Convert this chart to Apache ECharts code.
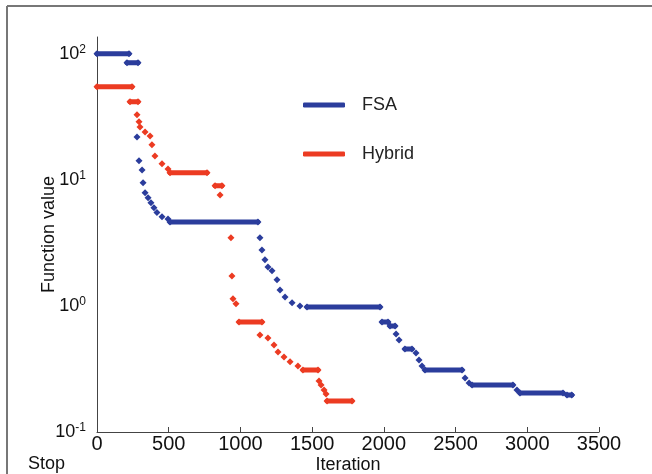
<!DOCTYPE html>
<html>
<head>
<meta charset="utf-8">
<script src="https://cdn.jsdelivr.net/npm/echarts@6/dist/echarts.min.js"></script>
<style>
html,body{margin:0;padding:0;background:#fff;}
#chart{width:652px;height:474px;}
</style>
</head>
<body>
<div id="chart"></div>
<script>
// Segments: [iterationStart, iterationEnd, functionValue]
var seriesNames = ['FSA', 'Hybrid'];
var fsaSegments = [
  [0, 223, 100], [209, 286, 85], [279, 279, 21.9], [293, 293, 14.2],
  [314, 314, 12.0], [321, 321, 9.5], [335, 335, 7.9], [356, 356, 7.2],
  [376, 376, 6.6], [397, 397, 6.0], [418, 418, 5.5], [453, 453, 5.1],
  [495, 495, 4.9], [509, 1122, 4.64], [1136, 1136, 3.47], [1150, 1150, 2.78],
  [1171, 1171, 2.32], [1192, 1192, 2.04], [1220, 1220, 1.90], [1255, 1255, 1.61],
  [1276, 1276, 1.34], [1311, 1311, 1.18], [1360, 1360, 1.06], [1415, 1415, 1.0],
  [1464, 1973, 0.98], [1987, 2029, 0.746], [2043, 2078, 0.693], [2085, 2085, 0.60],
  [2106, 2106, 0.537], [2147, 2196, 0.456], [2224, 2224, 0.424], [2245, 2245, 0.372],
  [2266, 2266, 0.334], [2287, 2545, 0.310], [2566, 2566, 0.268], [2594, 2594, 0.245],
  [2615, 2900, 0.236], [2928, 2928, 0.215], [2949, 3249, 0.204], [3277, 3310, 0.197]
];
var hybridSegments = [
  [0, 244, 54.7], [230, 286, 41.6], [279, 279, 32.8], [293, 293, 28.9],
  [300, 300, 26.3], [335, 335, 24.0], [370, 370, 22.3], [383, 383, 19.0],
  [404, 404, 15.5], [453, 453, 13.4], [495, 495, 12.2], [509, 767, 11.4],
  [823, 871, 9.0], [858, 858, 7.6], [934, 934, 3.47], [941, 941, 1.73],
  [948, 948, 1.14], [969, 969, 1.04], [990, 1150, 0.746], [1136, 1136, 0.589],
  [1192, 1192, 0.557], [1234, 1234, 0.49], [1262, 1262, 0.431], [1304, 1304, 0.394],
  [1346, 1346, 0.36], [1401, 1401, 0.334], [1436, 1541, 0.310], [1548, 1548, 0.254],
  [1562, 1562, 0.236], [1583, 1583, 0.215], [1597, 1597, 0.200], [1604, 1778, 0.176]
];
var xTicks = [0, 500, 1000, 1500, 2000, 2500, 3000, 3500];
var yPowers = [-1, 0, 1, 2];

function buildData(segs) {
  var out = [];
  segs.forEach(function (s) {
    out.push([s[0], s[2]]);
    if (s[1] !== s[0]) out.push([s[1], s[2]]);
    out.push([s[1] + 0.5, '-']);
  });
  return out;
}

var blue = '#2b3d9c';
var red = '#ec3b22';
var font = "'Liberation Sans', Arial, sans-serif";

var chart = echarts.init(document.getElementById('chart'), null, {renderer: 'canvas'});
chart.setOption({
  animation: false,
  backgroundColor: '#ffffff',
  grid: {left: 97, right: 53, top: 37, bottom: 42, containLabel: false, outerBoundsMode: 'none'},
  legend: {
    orient: 'vertical',
    left: 303, top: 96,
    padding: 0,
    itemGap: 31,
    itemWidth: 42, itemHeight: 5,
    icon: 'roundRect',
    textStyle: {fontFamily: font, fontSize: 18, color: '#222', padding: [0, 0, 0, 12]},
    data: seriesNames
  },
  xAxis: {
    type: 'value',
    min: xTicks[0], max: xTicks[xTicks.length - 1], interval: 500,
    name: 'Iteration', nameLocation: 'middle', nameGap: 24, nameMoveOverlap: false,
    nameTextStyle: {fontFamily: font, fontSize: 18, color: '#111'},
    axisLine: {lineStyle: {color: '#444', width: 1}},
    axisTick: {inside: true, length: 5, lineStyle: {color: '#444'}},
    axisLabel: {fontFamily: font, fontSize: 20, color: '#111', margin: 2,
      formatter: function (v) { return String(v); }},
    splitLine: {show: false}
  },
  yAxis: {
    type: 'log', logBase: 10,
    min: 0.1, max: 136,
    name: 'Function value', nameLocation: 'middle', nameGap: 39, nameMoveOverlap: false,
    nameTextStyle: {fontFamily: font, fontSize: 18, color: '#111'},
    axisLine: {show: true, lineStyle: {color: '#444', width: 1}},
    axisTick: {show: false},
    splitLine: {show: false},
    axisLabel: {
      margin: 11,
      showMaxLabel: false,
      formatter: function (v) {
        var e = Math.log10(v);
        var r = Math.round(e);
        if (Math.abs(e - r) > 1e-6 || yPowers.indexOf(r) < 0) return '';
        return '{b|10}{s|' + r + '}';
      },
      rich: {
        b: {fontFamily: font, fontSize: 18, color: '#111'},
        s: {fontFamily: font, fontSize: 12, color: '#111', padding: [0, 0, 8, 0]}
      }
    }
  },
  series: [
    {
      name: seriesNames[0], type: 'line',
      data: buildData(fsaSegments),
      connectNulls: false,
      symbol: 'diamond', symbolSize: 7, showSymbol: true, showAllSymbol: true,
      itemStyle: {color: blue},
      lineStyle: {color: blue, width: 5, cap: 'round'},
      z: 2
    },
    {
      name: seriesNames[1], type: 'line',
      data: buildData(hybridSegments),
      connectNulls: false,
      symbol: 'diamond', symbolSize: 7, showSymbol: true, showAllSymbol: true,
      itemStyle: {color: red},
      lineStyle: {color: red, width: 5, cap: 'round'},
      z: 3
    }
  ],
  graphic: [
    {type: 'line', shape: {x1: 7, y1: 6, x2: 652, y2: 6}, style: {stroke: '#777', lineWidth: 2}},
    {type: 'line', shape: {x1: 7, y1: 6, x2: 7, y2: 474}, style: {stroke: '#777', lineWidth: 2}},
    {type: 'text', left: 28, top: 455, style: {text: 'Stop', font: '18px ' + font, fill: '#111'}}
  ]
});
</script>
</body>
</html>
